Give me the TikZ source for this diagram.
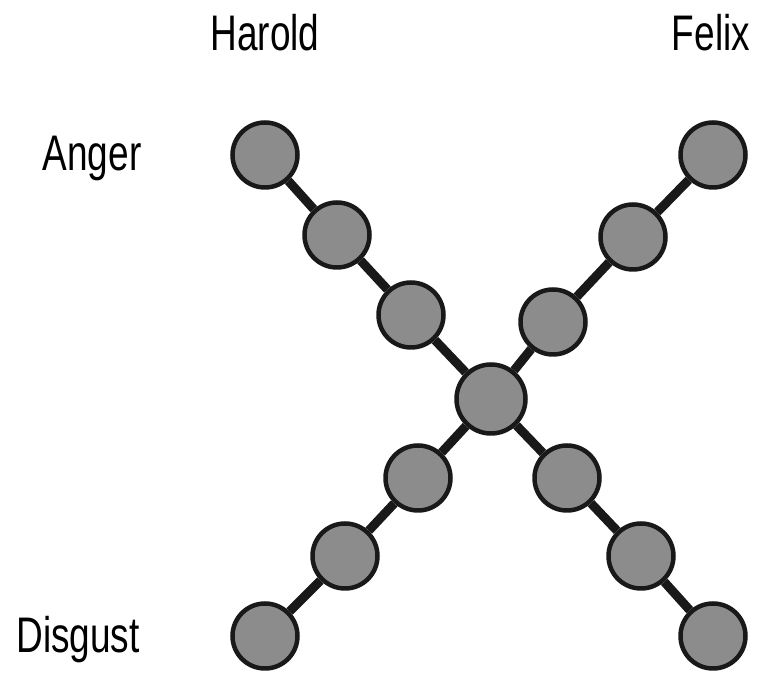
\documentclass[tikz,border=0pt]{standalone}
\usepackage{fontspec}
\setmainfont{Liberation Sans}[FakeStretch=0.74]
\usetikzlibrary{positioning}
\definecolor{beadgray}{HTML}{8C8C8C}

\begin{document}
\begin{tikzpicture}[x=1pt,y=1pt, every node/.style={font=\fontsize{50}{54}\selectfont},
  bead/.style={circle,draw=black!90,fill=beadgray,line width=4.5pt,
               minimum size=65pt,inner sep=0pt},
  link/.style={line width=9pt,draw=black!90}]
 \useasboundingbox (0,0) rectangle (758,682);
 % labels
 \node (harold) at (265,649) {Harold};
 \node (felix) at (711,649) {Felix};
 \node (anger) at (92,524) {Anger};
 \node (disgust) at (78,42) {Disgust};
 % beads
 \node[bead] (h1) at (265,527) {};
 \node[bead] (h2) at (337,447) {};
 \node[bead] (h3) at (411,367) {};
 \node[bead,minimum size=69pt] (mid) at (491,283) {};
 \node[bead] (h5) at (567,204) {};
 \node[bead] (h6) at (641,126) {};
 \node[bead] (h7) at (713,46) {};
 \node[bead] (f1) at (713,527) {};
 \node[bead] (f2) at (633,445) {};
 \node[bead] (f3) at (553,360) {};
 \node[bead] (f5) at (418,204) {};
 \node[bead] (f6) at (345,126) {};
 \node[bead] (f7) at (265,46) {};
 % links
 \draw[link] (h1) -- (h2) (h2) -- (h3) (h3) -- (mid) (mid) -- (h5)
   (h5) -- (h6) (h6) -- (h7);
 \draw[link] (f1) -- (f2) (f2) -- (f3) (f3) -- (mid) (mid) -- (f5)
   (f5) -- (f6) (f6) -- (f7);
\end{tikzpicture}
\end{document}
